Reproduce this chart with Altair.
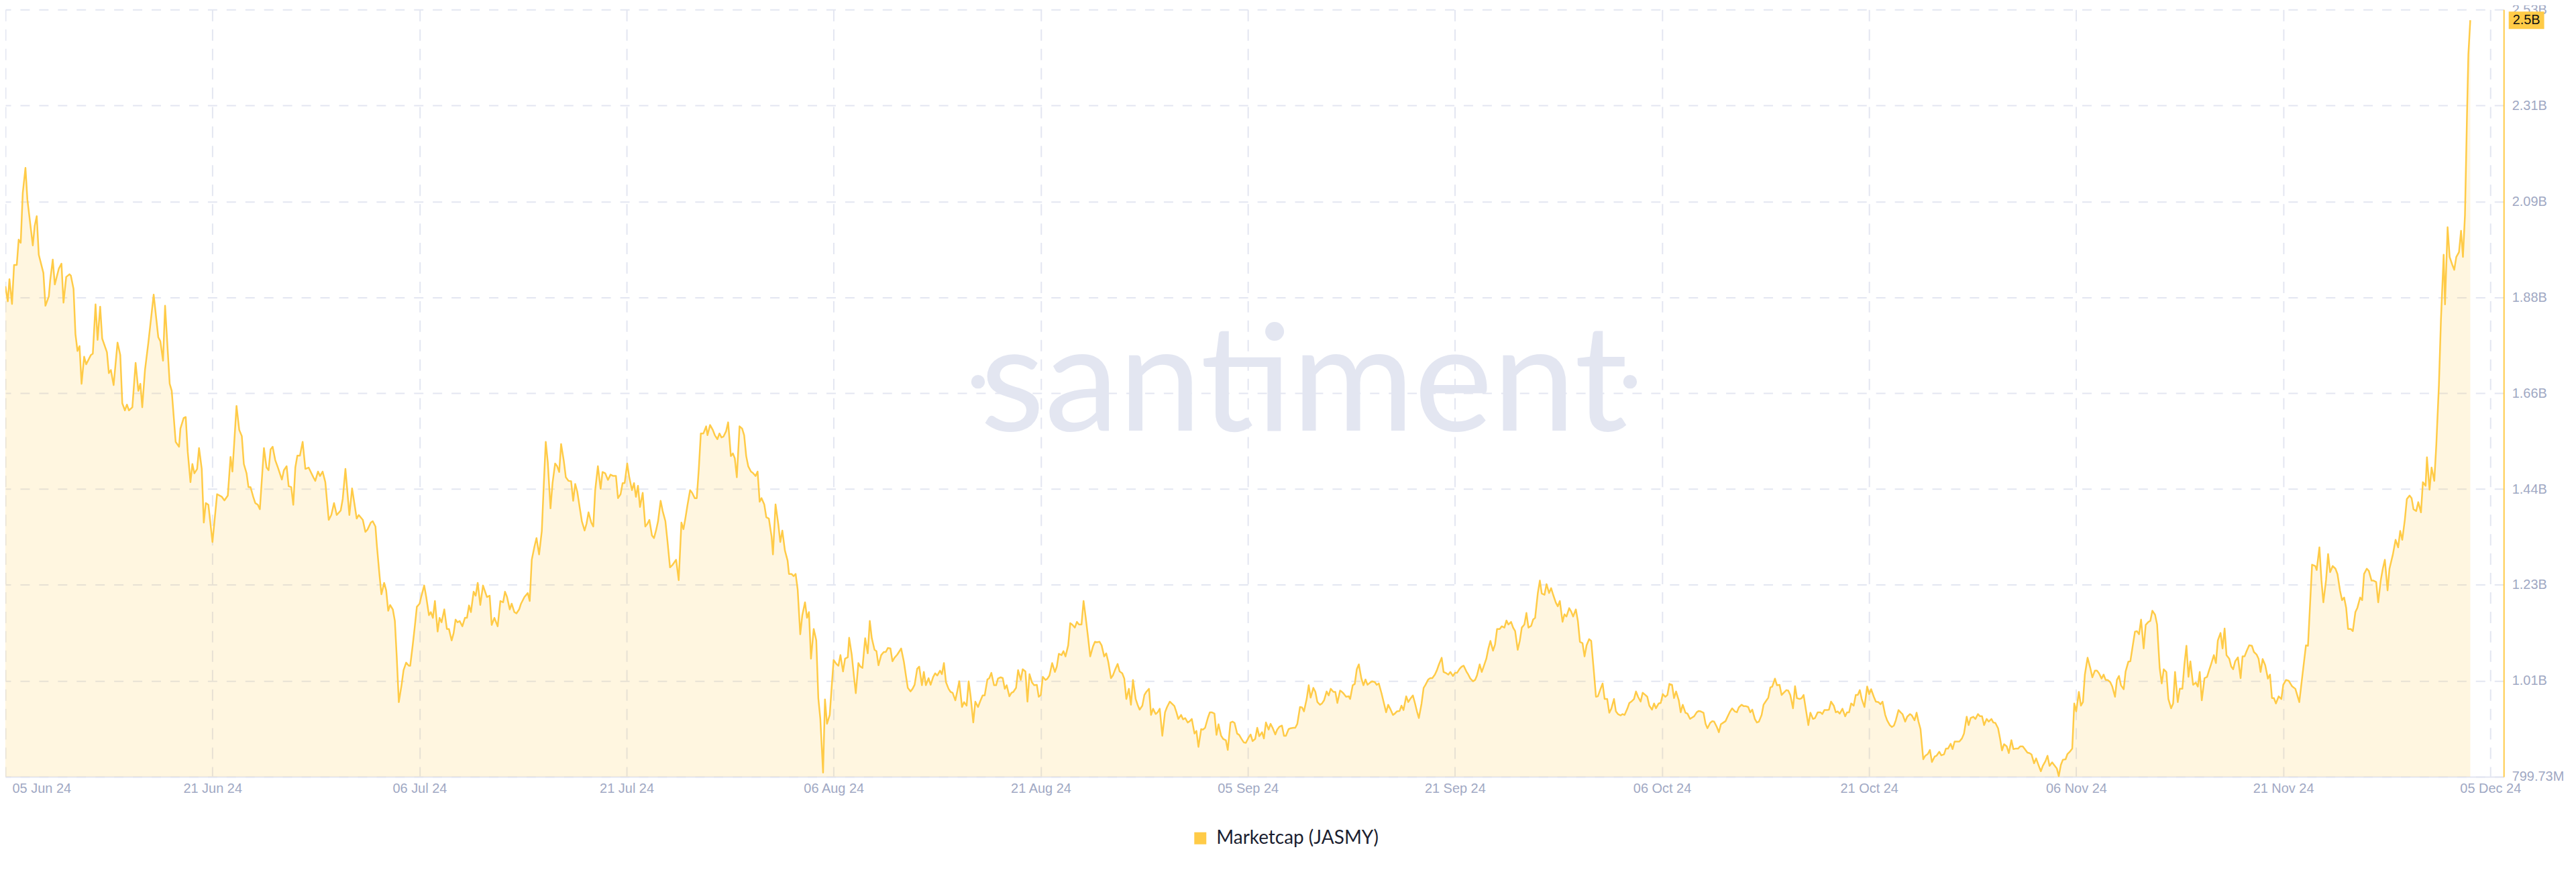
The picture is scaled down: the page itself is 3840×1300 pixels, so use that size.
import json
import altair as alt
import pandas as pd

# ---------------- data ----------------
# days since 05 Jun 2024, market cap in millions of USD
day_offsets = [
    0.00, 0.18, 0.30, 0.49, 0.64, 0.84, 0.98, 1.13, 1.28, 1.48, 1.62, 2.02, 2.16, 2.31, 2.46, 2.80,
    2.95, 3.20, 3.30, 3.49, 3.64, 3.94, 4.13, 4.28, 4.48, 4.72, 4.82, 5.02, 5.16, 5.31, 5.46, 5.61,
    5.80, 5.95, 6.30, 6.44, 6.64, 6.79, 6.98, 7.13, 7.48, 7.62, 7.77, 7.97, 8.26, 8.46, 8.61, 8.80,
    8.95, 9.10, 9.35, 9.59, 9.79, 9.94, 10.08, 10.28, 10.53, 10.92, 11.26, 11.41, 11.61, 11.76, 12.10, 12.25,
    12.54, 12.79, 12.89, 13.13, 13.28, 13.43, 13.63, 13.77, 13.92, 14.12, 14.26, 14.46, 14.61, 14.76, 14.95, 15.25,
    15.59, 15.94, 16.13, 16.38, 16.58, 16.72, 17.02, 17.22, 17.41, 17.56, 17.76, 17.90, 18.05, 18.25, 18.40, 18.59,
    18.74, 19.04, 19.23, 19.38, 19.53, 19.68, 19.87, 20.07, 20.36, 20.51, 20.71, 20.86, 21.05, 21.20, 21.35, 21.50,
    21.69, 21.89, 22.09, 22.33, 22.68, 22.82, 23.02, 23.17, 23.36, 23.56, 23.81, 24.00, 24.20, 24.40, 24.69, 24.84,
    25.04, 25.33, 25.53, 25.73, 25.87, 26.02, 26.32, 26.51, 26.66, 26.91, 27.05,
    27.25, 27.35, 27.55, 27.69, 27.89, 28.04, 28.19, 28.33, 28.53, 28.68, 28.82, 28.97, 29.17, 29.32, 29.51, 29.71,
    29.81, 30.00, 30.15, 30.30, 30.50, 30.64, 30.84, 30.99, 31.19, 31.33, 31.48, 31.63, 31.83, 31.97, 32.12, 32.32,
    32.51, 32.66, 32.86, 33.01, 33.15, 33.30, 33.45, 33.65, 33.84, 33.99, 34.14, 34.28, 34.48, 34.63, 34.78, 34.97,
    35.17, 35.27, 35.46, 35.66, 35.81, 36.01, 36.25, 36.45, 36.65, 36.79, 36.94, 37.14, 37.28, 37.48, 37.63, 37.83,
    37.97, 38.22, 38.47, 38.61, 38.76, 38.96, 39.11, 39.30, 39.50, 39.65, 39.79, 39.94, 40.14, 40.29, 40.48, 40.63,
    40.78, 40.92, 41.12, 41.27, 41.47, 41.66, 41.81, 41.96, 42.11, 42.30, 42.45, 42.65, 42.79, 42.94, 43.14, 43.29,
    43.43, 43.63, 43.83, 43.97, 44.17, 44.37, 44.56, 44.76, 44.96, 45.11, 45.30, 45.45, 45.60, 45.79, 45.94, 46.14,
    46.29, 46.43, 46.58, 46.73, 46.93, 47.12, 47.27, 47.42, 47.61, 47.76, 47.91, 48.06, 48.25, 48.40, 48.60, 48.75,
    48.94, 49.14, 49.39, 49.58, 49.78, 49.93, 50.07, 50.22, 50.42, 50.57, 50.76, 50.91, 51.06, 51.21, 51.40, 51.60,
    51.70, 51.89, 52.09, 52.24, 52.43, 52.58, 52.73, 52.88, 53.07, 53.22, 53.42, 53.57, 53.71, 53.86, 54.06, 54.25,
    54.40, 54.55, 54.70, 54.90, 55.04, 55.24, 55.39, 55.54, 55.68, 55.88, 56.03, 56.22, 56.42, 56.52, 56.71, 56.91,
    57.06, 57.21, 57.40, 57.60, 57.70, 57.89, 58.04, 58.19, 58.34, 58.53, 58.68, 58.88, 59.03, 59.17, 59.32, 59.52,
    59.71, 59.86, 60.01, 60.21, 60.35, 60.50, 60.70, 60.89, 60.99, 61.19, 61.34,
    61.49, 61.68, 61.83, 62.03, 62.13, 62.32, 62.47, 62.62, 62.81, 62.96, 63.11, 63.31, 63.50, 63.65, 63.80, 64.00,
    64.14, 64.29, 64.49, 64.68, 64.83, 64.98, 65.17, 65.32, 65.47, 65.67, 65.86, 65.96, 66.16, 66.31, 66.45, 66.65,
    66.80, 66.95, 67.14, 67.29, 67.49, 67.63, 67.78, 67.98, 68.13, 68.32, 68.47, 68.62, 68.82, 68.96, 69.11, 69.26,
    69.45, 69.60, 69.75, 69.95, 70.09, 70.24, 70.44, 70.59, 70.78, 70.93, 71.08, 71.27, 71.42, 71.62, 71.77, 71.96,
    72.11, 72.31, 72.45, 72.60, 72.80, 72.95, 73.09, 73.29, 73.44, 73.59, 73.73, 73.93, 74.08, 74.22, 74.42, 74.57,
    74.77, 74.91, 75.11, 75.26, 75.41, 75.60, 75.75, 75.95, 76.09, 76.24, 76.39, 76.59, 76.73, 76.88, 77.08, 77.28,
    77.42, 77.57, 77.77, 77.91, 78.06, 78.26, 78.41, 78.55, 78.75, 78.90, 79.05, 79.24, 79.39, 79.54, 79.73, 79.88,
    80.08, 80.23, 80.37, 80.57, 80.72, 80.91, 81.06, 81.21, 81.41, 81.55, 81.70, 81.90, 82.05, 82.24, 82.39, 82.54,
    82.73, 82.88, 83.03, 83.23, 83.37, 83.52, 83.72, 83.87, 84.01, 84.21, 84.36, 84.51, 84.70, 84.85, 85.00, 85.19,
    85.39, 85.54, 85.74, 85.88, 86.08, 86.23, 86.37, 86.57, 86.72, 86.87, 87.06, 87.21, 87.36, 87.56, 87.70, 87.85,
    88.05, 88.19, 88.34, 88.54, 88.69, 88.83, 89.03, 89.18, 89.33, 89.52, 89.67, 89.87, 90.01, 90.21, 90.36, 90.51,
    90.70, 90.85, 91.00, 91.19, 91.34, 91.54, 91.69, 91.84, 92.03, 92.18, 92.33, 92.53, 92.67, 92.82, 93.02, 93.16,
    93.31, 93.51, 93.65, 93.80, 94.00, 94.15, 94.29, 94.49, 94.64, 94.84, 94.98, 95.13, 95.33, 95.48, 95.62, 95.82,
    95.97, 96.11, 96.31, 96.46, 96.61, 96.80, 96.95, 97.10, 97.29, 97.44, 97.59, 97.79, 97.93, 98.08, 98.28,
    98.38, 98.52, 98.72, 98.92, 99.02, 99.21, 99.36, 99.51, 99.66, 99.85, 100.00, 100.15, 100.30, 100.49, 100.64, 100.84,
    100.98, 101.13, 101.33, 101.48, 101.67, 101.82, 101.97, 102.17, 102.31, 102.46, 102.66, 102.80, 102.95, 103.15, 103.30, 103.44,
    103.64, 103.79, 103.94, 104.08, 104.28, 104.43, 104.57, 104.77, 104.92, 105.07, 105.26, 105.41, 105.56, 105.76, 105.90, 106.05,
    106.25, 106.40, 106.59, 106.74, 106.89, 107.08, 107.23, 107.38, 107.58, 107.72, 107.87, 108.07, 108.22, 108.36, 108.56, 108.71,
    108.85, 109.05, 109.20, 109.35, 109.54, 109.69, 109.84, 110.04, 110.18, 110.38, 110.53, 110.67, 110.87, 111.02, 111.17, 111.36,
    111.51, 111.66, 111.85, 112.00, 112.15, 112.35, 112.49, 112.64, 112.84, 112.99, 113.13, 113.33, 113.48, 113.67, 113.82, 113.97,
    114.17, 114.31, 114.46, 114.66, 114.80, 114.95, 115.15, 115.30, 115.44, 115.64, 115.79, 115.94, 116.13, 116.28, 116.43, 116.62,
    116.77, 116.97, 117.12, 117.26, 117.46, 117.61, 117.76, 117.95, 118.10, 118.25, 118.45, 118.59, 118.74, 118.94, 119.08, 119.23,
    119.43, 119.58, 119.72, 119.92, 120.07, 120.22, 120.41, 120.56, 120.76, 120.90, 121.05, 121.25, 121.40, 121.54, 121.74, 121.89,
    122.04, 122.23, 122.38, 122.53, 122.72, 122.87, 123.02, 123.22, 123.36, 123.51, 123.71, 123.86, 124.05, 124.20, 124.35, 124.54,
    124.69, 124.84, 125.04, 125.19, 125.33, 125.53, 125.68, 125.82, 126.02, 126.17, 126.32, 126.51, 126.66, 126.81, 127.00, 127.15,
    127.35, 127.50, 127.64, 127.84, 127.99, 128.14, 128.33, 128.48, 128.63, 128.82, 128.97, 129.12, 129.32, 129.46, 129.61, 129.81,
    129.96, 130.10, 130.30, 130.45, 130.64, 130.79, 130.94, 131.14, 131.28, 131.43, 131.63, 131.78, 131.92, 132.12, 132.27, 132.41,
    132.61, 132.76, 132.91, 133.10, 133.25,
    133.45, 133.65, 133.79, 133.94, 134.14, 134.28, 134.43, 134.63, 134.78, 134.92, 135.07, 135.27, 135.47, 135.61, 135.76, 135.91,
    136.10, 136.25, 136.40, 136.55, 136.69, 136.89, 137.09, 137.24, 137.38, 137.58, 137.73, 137.92, 138.07, 138.22, 138.42, 138.56,
    138.76, 138.91, 139.06, 139.20, 139.40, 139.55, 139.69, 139.89, 140.04, 140.24, 140.38, 140.58, 140.73, 140.87, 141.02, 141.22,
    141.37, 141.56, 141.71, 141.86, 142.06, 142.20, 142.40, 142.55, 142.75, 142.89, 143.04, 143.24, 143.38, 143.53, 143.73, 143.88,
    144.07, 144.22, 144.42, 144.56, 144.71, 144.91, 145.06, 145.25, 145.40, 145.55, 145.70, 145.89, 146.04, 146.24, 146.38, 146.53,
    146.73, 146.88, 147.02, 147.17, 147.37, 147.52, 147.71, 147.86, 148.01, 148.20, 148.35, 148.55, 148.70, 148.89, 149.04, 149.19,
    149.38, 149.53, 149.73, 149.88, 150.02, 150.22, 150.37, 150.52, 150.71, 150.86, 151.06, 151.20, 151.35, 151.50, 151.70, 151.84,
    152.04, 152.19, 152.34, 152.48, 152.68, 152.83, 152.98, 153.12, 153.32, 153.52, 153.67, 153.86, 154.01, 154.16, 154.35, 154.50,
    154.65, 154.80, 154.99, 155.14, 155.34, 155.48, 155.63, 155.78, 155.98, 156.12, 156.32, 156.47, 156.62, 156.81, 156.96, 157.11,
    157.26, 157.45, 157.60, 157.80, 157.94, 158.09, 158.29, 158.44, 158.63, 158.78, 158.93, 159.12, 159.27, 159.47, 159.62, 159.76,
    159.96, 160.11, 160.30, 160.45, 160.60, 160.75, 160.89, 161.09, 161.29, 161.44, 161.58, 161.73, 161.93, 162.12, 162.27, 162.42,
    162.62, 162.77, 162.91, 163.11, 163.26, 163.41, 163.55, 163.75, 163.90, 164.04, 164.19, 164.39, 164.59, 164.73, 164.88, 165.03,
    165.22, 165.42, 165.57, 165.77, 165.91, 166.06, 166.21, 166.40, 166.60, 166.75, 166.90, 167.04, 167.19,
    167.39, 167.59, 167.73, 167.93, 168.13, 168.37, 168.62, 168.91, 169.16, 169.40, 169.55, 169.85, 170.09, 170.19, 170.39, 170.54,
    170.68, 170.88, 171.03, 171.18, 171.37, 171.57, 171.72, 171.91, 172.06, 172.21, 172.36, 172.50, 172.70, 172.85, 173.04, 173.19,
    173.39, 173.54, 173.68, 173.88, 174.03, 174.23, 174.37, 174.57, 174.72, 174.91, 175.06, 175.21, 175.41, 175.55, 175.80, 176.00,
    176.19, 176.34, 176.49, 176.68, 176.83, 177.03, 177.18, 177.32, 177.52, 177.67, 177.87, 178.01, 178.21, 178.31, 178.50, 178.65,
    178.85, 179.00, 179.19, 179.34, 179.54, 179.64, 179.83, 179.98, 180.18, 180.32, 180.47, 180.67, 180.82, 180.96, 181.11, 181.26,
    181.36, 181.50,
]

marketcap_musd = [
    1906, 1872, 1922, 1866, 1954, 1954, 2011, 2004, 2116, 2173, 2102, 1998, 2042, 2064, 1977, 1936,
    1862, 1883, 1919, 1966, 1910, 1946, 1957, 1869, 1927, 1933, 1930, 1900, 1798, 1760, 1771, 1686,
    1747, 1730, 1751, 1754, 1865, 1785, 1860, 1788, 1757, 1710, 1717, 1683, 1779, 1751, 1642, 1626,
    1639, 1626, 1633, 1733, 1670, 1686, 1633, 1717, 1779, 1887, 1791, 1782, 1738, 1862, 1686, 1670,
    1555, 1544, 1585, 1609, 1611, 1532, 1464, 1505, 1484, 1494, 1541, 1494, 1373, 1417, 1413, 1329,
    1437, 1431, 1423, 1434, 1521, 1488, 1636, 1582, 1568, 1505, 1484, 1453, 1453, 1431, 1417, 1413,
    1403, 1541, 1497, 1491, 1538, 1544, 1514, 1497, 1470, 1491, 1500, 1455, 1453, 1413, 1497, 1524,
    1524, 1555, 1494, 1497, 1475, 1467, 1488, 1478, 1488, 1464, 1379, 1390, 1417, 1390, 1400, 1426,
    1494, 1390, 1450, 1410, 1382, 1390, 1379, 1352, 1357, 1373, 1376,
    1364, 1323, 1254, 1211, 1237, 1220, 1174, 1187, 1177, 1151, 1069, 968, 1006, 1040, 1057, 1050,
    1050, 1098, 1139, 1183, 1190, 1208, 1231, 1205, 1164, 1171, 1158, 1196, 1127, 1158, 1148, 1177,
    1133, 1133, 1107, 1124, 1154, 1148, 1151, 1139, 1158, 1158, 1186, 1171, 1217, 1208, 1237, 1187,
    1231, 1222, 1205, 1208, 1142, 1158, 1139, 1196, 1193, 1217, 1205, 1177, 1190, 1171, 1168, 1177,
    1190, 1205, 1214, 1196, 1289, 1319, 1338, 1301, 1354, 1462, 1555, 1509, 1405, 1462, 1506, 1500,
    1487, 1550, 1512, 1475, 1467, 1466, 1422, 1460, 1443, 1405, 1376, 1355, 1370, 1396, 1373, 1364,
    1446, 1500, 1449, 1487, 1484, 1469, 1481, 1478, 1478, 1428, 1437, 1462, 1462, 1506, 1475, 1446,
    1462, 1431, 1456, 1408, 1440, 1364, 1370, 1379, 1344, 1338, 1355, 1376, 1422, 1399, 1376, 1332,
    1272, 1278, 1289, 1243, 1373, 1358, 1382, 1411, 1446, 1440, 1428, 1428, 1494, 1574, 1574, 1590,
    1570, 1593, 1582, 1570, 1561, 1574, 1565, 1567, 1579, 1599, 1523, 1529, 1518, 1475, 1590, 1585,
    1570, 1523, 1500, 1488, 1485, 1478, 1488, 1420, 1428, 1414, 1385, 1382, 1341, 1301, 1414, 1370,
    1329, 1355, 1310, 1287, 1257, 1257, 1252, 1257, 1222, 1121, 1164, 1193, 1158, 1171, 1066, 1133,
    1107, 977, 930, 809, 974, 919, 939, 1022, 1063, 1054, 1050,
    1074, 1037, 1066, 1069, 1113, 1075, 1030, 988, 1056, 1048, 1045, 1112, 1078, 1151, 1112, 1086,
    1083, 1051, 1074, 1081, 1081, 1090, 1089, 1060, 1068, 1075, 1084, 1089, 1059, 1028, 1000, 992,
    998, 1007, 1043, 1048, 1006, 1036, 1006, 1022, 1007, 1025, 1033, 1028, 1039, 1031, 1056, 1013,
    998, 991, 989, 972, 992, 1015, 957, 968, 960, 1015, 980, 922, 969, 957, 969, 983,
    983, 1019, 1022, 1034, 1006, 1006, 1021, 1024, 1022, 998, 1006, 981, 989, 991, 1000, 1040,
    1018, 1042, 1037, 969, 1031, 1012, 1006, 1007, 980, 984, 1025, 1018, 1021, 1028, 1056, 1036,
    1048, 1077, 1074, 1083, 1071, 1096, 1146, 1143, 1136, 1149, 1143, 1143, 1196, 1161, 1112, 1071,
    1093, 1104, 1103, 1104, 1096, 1071, 1078, 1059, 1022, 1028, 1040, 1054, 1037, 1033, 1021, 975,
    998, 962, 1018, 975, 962, 951, 960, 984, 991, 998, 939, 953, 941, 945, 953, 892,
    945, 957, 969, 965, 959, 945, 930, 939, 929, 932, 922, 925, 930, 897, 903, 867,
    907, 906, 910, 932, 945, 945, 942, 894, 918, 892, 885, 882, 860, 922, 924, 921,
    897, 894, 886, 877, 876, 888, 895, 880, 885, 910, 891, 900, 886, 922, 906, 919,
    910, 895, 906, 912, 915, 892, 892, 907, 909, 910, 910, 919, 957, 956, 947, 975,
    1006, 978, 1000, 991, 968, 962, 965, 972, 992, 983, 998, 991, 991, 966, 994,
    992, 988, 980, 981, 975, 1006, 1009, 1042, 1053, 1021, 1006, 1019, 1007, 1012, 1015, 1013,
    1007, 1010, 988, 969, 945, 962, 953, 939, 942, 947, 948, 960, 950, 981, 968, 975,
    983, 966, 947, 932, 965, 1000, 1007, 1019, 1022, 1022, 1030, 1040, 1053, 1068, 1036, 1034,
    1030, 1036, 1027, 1034, 1034, 1043, 1048, 1050, 1037, 1030, 1021, 1015, 1018, 1028, 1053, 1036,
    1048, 1066, 1089, 1106, 1084, 1098, 1133, 1133, 1139, 1136, 1152, 1143, 1149, 1136, 1128, 1086,
    1106, 1136, 1143, 1169, 1136, 1140, 1154, 1158, 1214, 1242, 1213, 1210, 1234, 1214, 1225, 1210,
    1192, 1184, 1196, 1149, 1166, 1161, 1180, 1172, 1161, 1177, 1151, 1104, 1101, 1071, 1096, 1110,
    1106, 1036, 980, 981, 998, 1010, 975, 975, 944, 953, 975, 947, 941, 938, 941, 939,
    953, 966, 969, 975, 992, 980, 969, 989, 984, 980, 960, 951, 965, 954, 965, 966,
    986, 980, 984, 1009, 1007, 977, 992, 972, 945, 962, 944, 942, 930, 933, 936, 945,
    948, 947, 944, 919, 909, 921, 925, 924, 912, 900, 918, 922, 925, 935, 947, 954,
    947, 945, 956, 962, 959, 959, 957, 945, 951, 930, 922, 924, 939, 962, 969, 978,
    1001, 1003, 1021, 1006, 1007, 984, 989, 995, 994, 984, 954, 1004, 977, 975, 977, 984,
    945, 916, 944, 930, 932,
    945, 945, 941, 950, 950, 951, 969, 960, 945, 947, 942, 953, 936, 945, 945, 965,
    960, 984, 984, 995, 975, 957, 1003, 986, 997, 980, 969, 968, 963, 969, 939, 927,
    916, 912, 915, 927, 950, 945, 941, 924, 935, 941, 938, 927, 944, 924, 907, 839,
    847, 851, 860, 833, 845, 847, 856, 848, 850, 863, 863, 874, 862, 879, 879, 879,
    886, 897, 935, 916, 932, 935, 930, 941, 936, 936, 916, 930, 924, 930, 922, 921,
    909, 885, 859, 873, 868, 853, 882, 862, 863, 863, 868, 868, 862, 854, 853, 850,
    830, 841, 824, 812, 824, 835, 847, 824, 832, 826, 818, 801, 826, 838, 839, 851,
    857, 863, 965, 947, 991, 960, 968, 1030, 1068, 1045, 1024, 1039, 1039, 1033, 1021, 1030,
    1018, 1018, 1013, 1003, 980, 1018, 1027, 1006, 997, 1037, 1059, 1060, 1090, 1127, 1128, 1121,
    1154, 1089, 1142, 1149, 1151, 1174, 1165, 1143, 1045, 1010, 1042, 1036, 975, 954, 965, 1036,
    968, 998, 998, 1053, 1095, 1025, 1060, 1007, 1012, 1003, 1036, 972, 1022, 1025, 1040, 1054,
    1074, 1056, 1107, 1124, 1089, 1134, 1074, 1066, 1048, 1042, 1060, 1069, 1022, 1071, 1071, 1083,
    1096, 1095, 1081, 1075, 1066, 1036, 1065, 1051, 1021, 1030, 977, 977, 965,
    981, 975, 1007, 1018, 1016, 1004, 998, 968, 1034, 1096, 1095, 1278, 1275, 1266, 1317, 1243,
    1193, 1243, 1302, 1261, 1275, 1269, 1257, 1219, 1198, 1204, 1181, 1133, 1133, 1128, 1171, 1181,
    1204, 1198, 1257, 1269, 1264, 1242, 1242, 1239, 1193, 1243, 1269, 1289, 1220, 1269, 1301, 1334,
    1317, 1354, 1334, 1379, 1426, 1434, 1428, 1403, 1399, 1419, 1396, 1464, 1456, 1520, 1447, 1497,
    1467, 1549, 1683, 1830, 1977, 1865, 2039, 1972, 1954, 1943, 1972, 1983, 2031, 1972, 2067, 2293,
    2429, 2506,
]

series_name = "Marketcap (JASMY)"
last_value_label = "2.5B"
watermark_word = "santiment"

x_tick_labels = ["05 Jun 24", "21 Jun 24", "06 Jul 24", "21 Jul 24", "06 Aug 24", "21 Aug 24",
                 "05 Sep 24", "21 Sep 24", "06 Oct 24", "21 Oct 24", "06 Nov 24", "21 Nov 24", "05 Dec 24"]
x_tick_step = 15.248
x_domain_end = 183.96

y_tick_values = [799.73, 1016.0, 1232.3, 1448.6, 1664.9, 1881.1, 2097.4, 2313.7, 2530.0]
y_tick_labels = ["799.73M", "1.01B", "1.23B", "1.44B", "1.66B", "1.88B", "2.09B", "2.31B", "2.53B"]

# ---------------- style ----------------
YELLOW = "#FFCB47"
GRID = "#E3E6F1"
LABEL = "#9FA8C3"
WM_COLOR = "#E3E6F1"
AXIS_FONT = "Liberation Sans"
W, H = 3732, 1146
WM_CX, WM_BASE, WM_DOT_DX, WM_DOT_Y = 1940, 629, 487, 556

df = pd.DataFrame({"day": day_offsets, "mcap": marketcap_musd})
df["series"] = series_name
assert len(day_offsets) == len(marketcap_musd)

x_ticks = [round(k * x_tick_step, 4) for k in range(len(x_tick_labels))]
x_label_expr = f"{json.dumps(x_tick_labels)}[round(datum.value / {x_tick_step})]"
y_step = (y_tick_values[-1] - y_tick_values[0]) / (len(y_tick_values) - 1)
y_label_expr = f"{json.dumps(y_tick_labels)}[round((datum.value - {y_tick_values[0]}) / {y_step})]"

x_enc = alt.X(
    "day:Q",
    scale=alt.Scale(domain=[0, x_domain_end], nice=False, zero=False),
    axis=alt.Axis(
        values=x_ticks, labelExpr=x_label_expr, title=None,
        grid=True, gridColor=GRID, gridDash=[17, 12], gridWidth=2,
        domain=True, domainColor=GRID, domainWidth=2, ticks=False,
        labelFont=AXIS_FONT, labelFontSize=20, labelColor=LABEL, labelPadding=8,
        labelFlush=True, labelFlushOffset=-10, labelOverlap=False,
    ),
)
y_enc = alt.Y(
    "mcap:Q",
    scale=alt.Scale(domain=[y_tick_values[0], y_tick_values[-1]], nice=False, zero=False),
    axis=alt.Axis(
        orient="right", values=y_tick_values, labelExpr=y_label_expr, title=None,
        grid=True, gridColor=GRID, gridDash=[14, 14], gridWidth=2,
        domain=True, domainColor=YELLOW, domainWidth=2, ticks=False,
        labelFont=AXIS_FONT, labelFontSize=20, labelColor=LABEL, labelPadding=12,
        labelOverlap=False,
    ),
)

base = alt.Chart(df)

# watermark: the word plus two round dots
wm_word = alt.Chart(pd.DataFrame({"t": [watermark_word]})).mark_text(
    font="Lato", fontWeight=400, fontSize=222, color=WM_COLOR,
    align="center", baseline="alphabetic",
).encode(text="t:N", x=alt.value(WM_CX), y=alt.value(WM_BASE))
wm_dots = alt.Chart(pd.DataFrame({"side": [-1, 1]})).transform_calculate(
    px=f"{WM_CX} + datum.side * {WM_DOT_DX}"
).mark_circle(size=420, color=WM_COLOR, opacity=1).encode(
    x=alt.X("px:Q", scale=None), y=alt.value(WM_DOT_Y)
)

area = base.mark_area(color=YELLOW, opacity=0.17, interpolate="linear").encode(
    x=x_enc, y=y_enc, y2=alt.datum(y_tick_values[0])
)
line = base.mark_line(color=YELLOW, strokeWidth=2.5, strokeJoin="round").encode(x=x_enc, y=y_enc)

legend_layer = base.transform_filter("false").mark_square(opacity=1).encode(
    x="day:Q", y="mcap:Q",
    color=alt.Color(
        "series:N",
        scale=alt.Scale(domain=[series_name], range=[YELLOW]),
        legend=alt.Legend(
            title=None, orient="none", legendX=1771, legendY=1224, direction="horizontal",
            symbolType="square", symbolSize=324, symbolStrokeWidth=0, symbolOpacity=1,
            labelFont="Lato", labelFontSize=28, labelColor="#1B1E30", labelOffset=10,
            labelLimit=600, padding=0,
        ),
    ),
)

last_df = pd.DataFrame({"mcap": [marketcap_musd[-1]], "label": [last_value_label]})
last_box = alt.Chart(last_df).mark_point(
    shape="M-1,-0.49L1,-0.49L1,0.49L-1,0.49Z", size=2809, filled=True,
    color=YELLOW, opacity=1, strokeWidth=0, xOffset=34,
).encode(x=alt.datum(x_domain_end), y="mcap:Q")
last_text = alt.Chart(last_df).mark_text(
    font=AXIS_FONT, fontSize=20, color="#111111", align="center", baseline="middle", xOffset=34,
).encode(x=alt.datum(x_domain_end), y="mcap:Q", text="label:N")

chart = (
    alt.layer(wm_word, wm_dots, area, line, legend_layer, last_box, last_text)
    .properties(
        width=W, height=H,
        padding={"left": 0, "top": 5, "right": 100, "bottom": 110},
        autosize=alt.AutoSizeParams(type="none"),
        background="white",
    )
    .configure_view(stroke=None)
)

chart.save("out.html", embed_options={"renderer": "svg", "actions": False})
